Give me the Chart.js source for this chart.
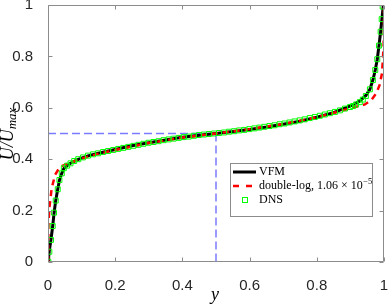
<!DOCTYPE html>
<html>
<head>
<meta charset="utf-8">
<script src="https://cdn.jsdelivr.net/npm/chart.js@4.4.1/dist/chart.umd.min.js"></script>
<style>
html, body { margin: 0; padding: 0; background: #fff; }
canvas { display: block; }
</style>
</head>
<body>
<canvas id="myChart" width="389" height="305"></canvas>
<script>
// VFM profile (black solid line)
let vfmY = [0, 0.002, 0.004, 0.009, 0.014, 0.018, 0.023, 0.029, 0.034, 0.041, 0.047, 0.057, 0.067, 0.078, 0.09, 0.104, 0.119, 0.15, 0.2, 0.25, 0.3, 0.35, 0.4, 0.45, 0.5, 0.55, 0.6, 0.65, 0.7, 0.75, 0.8, 0.85, 0.893, 0.908, 0.928, 0.946, 0.958, 0.967, 0.974, 0.98, 0.985, 0.99, 0.994, 0.998];
let vfmU = [0, 0.02, 0.045, 0.088, 0.14, 0.19, 0.239, 0.283, 0.318, 0.345, 0.363, 0.375, 0.384, 0.392, 0.399, 0.406, 0.413, 0.423, 0.438, 0.452, 0.464, 0.475, 0.485, 0.493, 0.5, 0.508, 0.516, 0.525, 0.536, 0.548, 0.563, 0.581, 0.604, 0.612, 0.626, 0.648, 0.672, 0.708, 0.747, 0.789, 0.842, 0.896, 0.948, 1.0];

// double-log law (red dashed)
let logY = [0.0005, 0.001, 0.004, 0.011, 0.021, 0.036, 0.055, 0.08, 0.1, 0.15, 0.2, 0.3, 0.4, 0.5, 0.6, 0.7, 0.8, 0.85, 0.9, 0.943, 0.962, 0.977, 0.987, 0.994, 0.997, 0.999, 1.0];
let logU = [0, 0.137, 0.21, 0.287, 0.339, 0.371, 0.381, 0.393, 0.402, 0.421, 0.436, 0.463, 0.484, 0.5, 0.517, 0.537, 0.563, 0.58, 0.598, 0.613, 0.63, 0.656, 0.689, 0.734, 0.793, 0.851, 1.0];

// DNS samples (green squares)
let dnsY = [0.001, 0.004, 0.009, 0.014, 0.018, 0.023, 0.029, 0.034, 0.041, 0.047, 0.057, 0.067, 0.078, 0.09, 0.104, 0.119,
	0.134, 0.149, 0.164, 0.179, 0.194, 0.209, 0.224, 0.239, 0.254, 0.269, 0.284, 0.299, 0.314, 0.329, 0.344, 0.359, 0.374, 0.389, 0.404, 0.419, 0.434, 0.449, 0.464, 0.479, 0.494,
	0.509, 0.524, 0.539, 0.554, 0.569, 0.584, 0.599, 0.614, 0.629, 0.644, 0.659, 0.674, 0.689, 0.704, 0.719, 0.734, 0.749, 0.764, 0.779, 0.794, 0.809, 0.824, 0.839, 0.854, 0.869, 0.884,
	0.899, 0.908, 0.917, 0.928, 0.937, 0.946, 0.958, 0.967, 0.974, 0.98, 0.985, 0.99, 0.993, 0.996];
let dnsU = [0.001, 0.04, 0.086, 0.14, 0.192, 0.239, 0.283, 0.319, 0.345, 0.365, 0.375, 0.384, 0.393, 0.4, 0.407, 0.414,
	0.419, 0.423, 0.428, 0.432, 0.436, 0.44, 0.444, 0.448, 0.452, 0.456, 0.46, 0.464, 0.467, 0.47, 0.474, 0.477, 0.48, 0.483, 0.486, 0.488, 0.491, 0.494, 0.496, 0.498, 0.5,
	0.502, 0.504, 0.507, 0.509, 0.512, 0.514, 0.517, 0.52, 0.523, 0.526, 0.529, 0.532, 0.536, 0.539, 0.543, 0.547, 0.551, 0.555, 0.56, 0.564, 0.569, 0.574, 0.579, 0.584, 0.59, 0.597,
	0.603, 0.607, 0.613, 0.622, 0.632, 0.646, 0.672, 0.708, 0.747, 0.789, 0.842, 0.896, 0.945, 0.994];

// blue guide lines through the centre point
let guideY = [0, 0.5, 0.5];
let guideU = [0.5, 0.5, 0];

let tickValues = [0, 0.2, 0.4, 0.6, 0.8, 1];
let legendLabels = ["VFM", "double-log, 1.06 \u00d7 10", "DNS"];
let legendExp = "\u22125";

let axisColor = "#8c8c8c";
let textColor = "#262626";

function toPoints(xs, ys) {
	return xs.map((x, i) => ({ x: x, y: ys[i] }));
}

function tickText(v) {
	if (Math.abs(v) < 1e-9) return "0";
	if (Math.abs(v - 1) < 1e-9) return "1";
	return v.toFixed(1);
}

//draws the box, inside ticks, axis titles and legend
const framePlugin = {
	id: "frame",
	afterDraw(chart) {
		let ctx = chart.ctx;
		let a = chart.chartArea;
		let xs = chart.scales.x;
		let ys = chart.scales.y;
		let L = Math.round(a.left) + 0.5, R = Math.round(a.right) - 0.5;
		let T = Math.round(a.top) + 0.5, B = Math.round(a.bottom) - 0.5;
		ctx.save();
		ctx.strokeStyle = axisColor;
		ctx.lineWidth = 1;
		ctx.setLineDash([]);
		ctx.beginPath();
		ctx.rect(L, T, R - L, B - T);
		tickValues.forEach((v) => {
			let px = Math.round(xs.getPixelForValue(v)) + 0.5;
			ctx.moveTo(px, B); ctx.lineTo(px, B - 4);
			ctx.moveTo(px, T); ctx.lineTo(px, T + 4);
			let py = Math.round(ys.getPixelForValue(v)) + 0.5;
			ctx.moveTo(L, py); ctx.lineTo(L + 4, py);
			ctx.moveTo(R, py); ctx.lineTo(R - 4, py);
		});
		ctx.stroke();

		// x title
		ctx.fillStyle = "#000";
		ctx.font = "italic 18px 'Liberation Serif'";
		ctx.textAlign = "center";
		ctx.textBaseline = "alphabetic";
		ctx.fillText("y", xs.getPixelForValue(0.5) - 1, 300);

		// y title U/U_max
		ctx.save();
		ctx.translate(13, 134);
		ctx.rotate(-Math.PI / 2);
		ctx.font = "italic 18px 'Liberation Serif'";
		let w1 = ctx.measureText("U/U").width;
		ctx.font = "italic 13px 'Liberation Serif'";
		let w2 = ctx.measureText("max").width;
		let x0 = -(w1 + w2) / 2;
		ctx.textAlign = "left";
		ctx.font = "italic 18px 'Liberation Serif'";
		ctx.fillText("U/U", x0, 0);
		ctx.font = "italic 13px 'Liberation Serif'";
		ctx.fillText("max", x0 + w1, 3);
		ctx.restore();

		// legend
		let lx = 230.5, ly = 163.5, lw = 142, lh = 53;
		ctx.fillStyle = "#fff";
		ctx.fillRect(lx, ly, lw, lh);
		ctx.strokeStyle = axisColor;
		ctx.strokeRect(lx, ly, lw, lh);
		let rows = [172, 186, 200];
		let ds = chart.data.datasets;
		ctx.lineCap = "butt";
		// VFM
		ctx.strokeStyle = ds[2].borderColor;
		ctx.lineWidth = ds[2].borderWidth;
		ctx.beginPath(); ctx.moveTo(233, rows[0]); ctx.lineTo(256, rows[0]); ctx.stroke();
		// double-log
		ctx.strokeStyle = ds[1].borderColor;
		ctx.lineWidth = ds[1].borderWidth;
		ctx.beginPath();
		ctx.moveTo(233, rows[1]); ctx.lineTo(239, rows[1]);
		ctx.moveTo(246, rows[1]); ctx.lineTo(252, rows[1]);
		ctx.stroke();
		// DNS
		ctx.strokeStyle = ds[0].borderColor;
		ctx.lineWidth = 1;
		ctx.strokeRect(242.5, rows[2] - 2.5, 5, 5);

		ctx.fillStyle = "#000";
		ctx.textAlign = "left";
		ctx.textBaseline = "middle";
		ctx.font = "12px 'Liberation Serif'";
		ctx.fillText(legendLabels[0], 259, rows[0]);
		ctx.fillText(legendLabels[1], 259, rows[1]);
		let bw = ctx.measureText(legendLabels[1]).width;
		ctx.font = "8.5px 'Liberation Serif'";
		ctx.fillText(legendExp, 259 + bw + 0.5, rows[1] - 4);
		ctx.font = "12px 'Liberation Serif'";
		ctx.fillText(legendLabels[2], 259, rows[2]);
		ctx.restore();
	},
};

let ctx = document.getElementById("myChart").getContext("2d");
let myChart = new Chart(ctx, {
	type: "scatter",
	data: {
		datasets: [
			{
				label: "DNS",
				data: toPoints(dnsY, dnsU),
				showLine: false,
				pointStyle: "rect",
				pointRadius: 3.5,
				pointBorderWidth: 1,
				borderColor: "#00ff00",
				pointBorderColor: "#00ff00",
				backgroundColor: "rgba(0,0,0,0)",
				pointBackgroundColor: "rgba(0,0,0,0)",
				order: 0,
			},
			{
				label: "double-log",
				data: toPoints(logY, logU),
				showLine: true,
				borderColor: "#ff0000",
				borderWidth: 2.5,
				borderDash: [6, 5],
				pointRadius: 0,
				tension: 0,
				order: 1,
			},
			{
				label: "VFM",
				data: toPoints(vfmY, vfmU),
				showLine: true,
				borderColor: "#000000",
				borderWidth: 3,
				pointRadius: 0,
				tension: 0,
				order: 2,
			},
			{
				label: "guide",
				data: toPoints(guideY, guideU),
				showLine: true,
				borderColor: "rgba(90,90,255,0.8)",
				borderWidth: 1.5,
				borderDash: [8, 4],
				pointRadius: 0,
				order: 3,
			},
		],
	},
	options: {
		responsive: false,
		animation: false,
		devicePixelRatio: 1,
		layout: { padding: { top: 5, right: 3, left: 0, bottom: 0 } },
		plugins: {
			legend: { display: false },
			tooltip: { enabled: false },
		},
		scales: {
			x: {
				type: "linear",
				min: 0,
				max: 1,
				afterBuildTicks: (s) => { s.ticks = tickValues.map((v) => ({ value: v })); },
				afterFit: (s) => { s.height = 43; s.paddingLeft = 0; s.paddingRight = 0; },
				grid: { display: false },
				border: { display: false },
				ticks: {
					padding: 7,
					color: textColor,
					font: { family: "'Liberation Sans'", size: 15 },
					maxRotation: 0,
					callback: (v) => tickText(v),
				},
			},
			y: {
				type: "linear",
				min: 0,
				max: 1,
				afterBuildTicks: (s) => { s.ticks = tickValues.map((v) => ({ value: v })); },
				afterFit: (s) => { s.width = 48; s.paddingTop = 0; s.paddingBottom = 0; },
				grid: { display: false },
				border: { display: false },
				ticks: {
					padding: 7,
					color: textColor,
					font: { family: "'Liberation Sans'", size: 15 },
					callback: (v) => tickText(v),
				},
			},
		},
	},
	plugins: [framePlugin],
});
</script>
</body>
</html>
